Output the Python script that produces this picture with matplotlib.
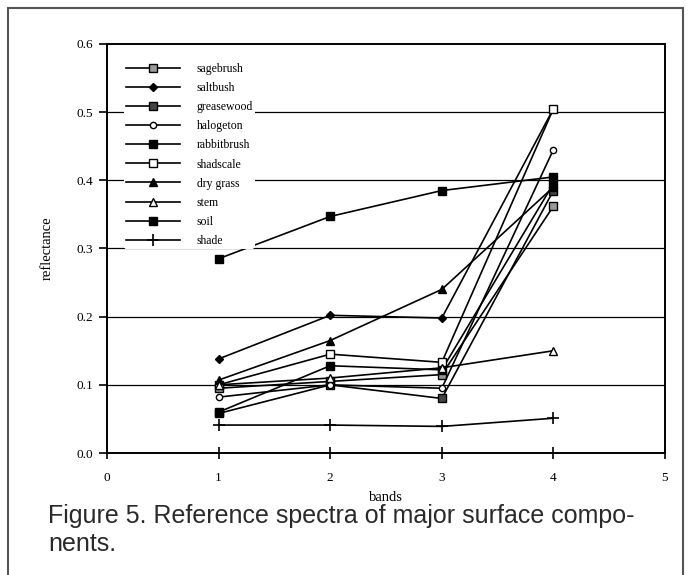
import matplotlib
matplotlib.use("Agg")
import matplotlib.pyplot as plt
from matplotlib.patches import Rectangle

bands = [1, 2, 3, 4]
names = ["sagebrush", "saltbush", "greasewood", "halogeton", "rabbitbrush",
         "shadscale", "dry grass", "stem", "soil", "shade"]
sagebrush = [0.095, 0.105, 0.115, 0.362]
saltbush = [0.138, 0.202, 0.198, 0.505]
greasewood = [0.058, 0.100, 0.080, 0.385]
halogeton = [0.082, 0.100, 0.095, 0.445]
rabbitbrush = [0.060, 0.128, 0.122, 0.395]
shadscale = [0.100, 0.145, 0.133, 0.505]
dry_grass = [0.107, 0.165, 0.240, 0.390]
stem = [0.100, 0.110, 0.125, 0.150]
soil = [0.285, 0.347, 0.385, 0.405]
shade = [0.041, 0.041, 0.039, 0.051]
series = [sagebrush, saltbush, greasewood, halogeton, rabbitbrush,
          shadscale, dry_grass, stem, soil, shade]

x_ticks = [0, 1, 2, 3, 4, 5]
y_ticks = [0.0, 0.1, 0.2, 0.3, 0.4, 0.5, 0.6]
y_tick_labels = ["0.0", "0.1", "0.2", "0.3", "0.4", "0.5", "0.6"]
caption = "Figure 5. Reference spectra of major surface compo-\nnents."

styles = [
    dict(marker="s", mfc="#999999", mec="black", ms=5.5),
    dict(marker="D", mfc="black", mec="black", ms=4),
    dict(marker="s", mfc="#444444", mec="black", ms=5.5),
    dict(marker="o", mfc="white", mec="black", ms=4.5),
    dict(marker="s", mfc="black", mec="black", ms=6),
    dict(marker="s", mfc="white", mec="black", ms=6),
    dict(marker="^", mfc="black", mec="black", ms=6),
    dict(marker="^", mfc="white", mec="black", ms=6),
    dict(marker="s", mfc="black", mec="black", ms=6),
    dict(marker="+", mfc="black", mec="black", ms=8, mew=1.2),
]

serif = ["Liberation Serif", "DejaVu Serif"]

fig = plt.figure(figsize=(6.89, 5.75), dpi=100)
ax = fig.add_axes([107/689, 1-453/575, (665-107)/689, (453-44)/575])

for y in y_ticks[1:-1]:
    ax.axhline(y, color="black", lw=0.9, zorder=1)

for name, vals, st in zip(names, series, styles):
    ax.plot(bands, vals, color="black", lw=1.2, label=name, zorder=3, **st)

ax.set_xlim(0, 5)
ax.set_ylim(0, 0.6)
ax.set_xticks(x_ticks)
ax.set_xticklabels([str(t) for t in x_ticks], fontfamily=serif, fontsize=9.5)
ax.set_yticks(y_ticks)
ax.set_yticklabels(y_tick_labels, fontfamily=serif, fontsize=9.5)
ax.tick_params(axis="x", direction="inout", length=8, width=1.2, pad=10)
ax.tick_params(axis="y", direction="out", length=6, width=1.2, pad=4)
for sp in ax.spines.values():
    sp.set_linewidth(1.4)

ax.set_xlabel("bands", fontfamily=serif, fontsize=10.5, labelpad=5)
ax.set_ylabel("reflectance", fontfamily=serif, fontsize=10.5, labelpad=16)

leg = ax.legend(loc="upper left", bbox_to_anchor=(0.02, 0.972), frameon=True,
                facecolor="white", edgecolor="none", framealpha=1,
                handlelength=4.6, labelspacing=0.6, handletextpad=1.4,
                prop={"family": serif, "size": 8.5}, borderpad=0.15)
leg.set_zorder(5)

fig.text(48/689, 1-504/575, caption, fontfamily="Liberation Sans",
         fontsize=18, va="top", ha="left", linespacing=1.2, color="#2a2a2a")

fig.patches.append(Rectangle((8/689, -0.01), (683-8)/689, 1.01-8/575,
                             transform=fig.transFigure, fill=False,
                             edgecolor="#555555", lw=1.5))

fig.savefig("out.png", dpi=100)
